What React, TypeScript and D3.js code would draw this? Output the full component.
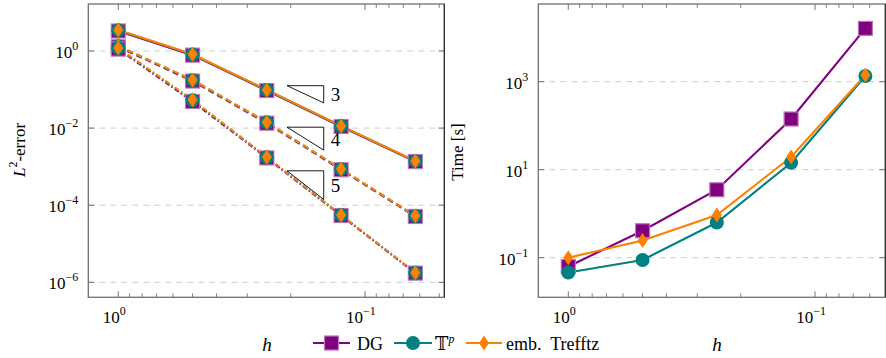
import React from 'react';
import * as d3 from 'd3';

// mesh sizes
const hValues = [1, 0.5, 0.25, 0.125, 0.0625];

// L2 errors, one array per method and order
const dgErr3 = [3.3, 0.78, 0.094, 0.011, 0.00135];
const tpErr3 = [3.45, 0.81, 0.097, 0.0113, 0.00139];
const teErr3 = [3.5, 0.82, 0.098, 0.0114, 0.0014];
const dgErr4 = [1.28, 0.166, 0.0134, 8.3e-4, 5.1e-5];
const tpErr4 = [1.33, 0.175, 0.0141, 8.6e-4, 5.25e-5];
const teErr4 = [1.35, 0.178, 0.0142, 8.7e-4, 5.3e-5];
const dgErr5 = [1.12, 0.049, 1.68e-3, 5.4e-5, 1.73e-6];
const tpErr5 = [1.18, 0.053, 1.75e-3, 5.55e-5, 1.76e-6];
const teErr5 = [1.2, 0.054, 1.77e-3, 5.6e-5, 1.77e-6];

// computing times [s]
const dgTime = [0.063, 0.41, 3.5, 142, 16300];
const tpTime = [0.046, 0.089, 0.63, 14.4, 1350];
const teTime = [0.1, 0.245, 0.93, 19.4, 1420];

// slope triangles
const slopeOrders = [3, 4, 5];
const slopeTopY = [0.126, 0.01055, 7.8e-4];
const slopeH0 = 0.207;
const slopeH1 = 0.147;

const leftYTicks = [1, 1e-2, 1e-4, 1e-6];
const leftYExp = ['0', '−2', '−4', '−6'];
const rightYTicks = [1e3, 1e1, 1e-1];
const rightYExp = ['3', '1', '−1'];
const xMajor = [1, 0.1];
const xMajorExp = ['0', '−1'];
const xMinor = [0.9, 0.8, 0.7, 0.6, 0.5, 0.4, 0.3, 0.2, 0.09, 0.08, 0.07, 0.06, 0.05];

const PURPLE = '#800080';
const TEAL = '#008080';
const ORANGE = '#ff8000';
const FONT = '"Liberation Serif", "DejaVu Serif", serif';
const tf = { fontFamily: FONT };

const xL = d3.scaleLog().domain([1.323, 0.0477]).range([88.3, 444.3]);
const yL = d3.scaleLog().domain([Math.pow(10, 1.219), Math.pow(10, -6.389)]).range([4, 297.3]);
const xR = d3.scaleLog().domain([1.323, 0.0519]).range([538.3, 885.3]);
const yR = d3.scaleLog().domain([Math.pow(10, 4.766), Math.pow(10, -1.9)]).range([4, 297.3]);

function Square({ x, y }: { x: number; y: number }) {
  const s = 14;
  return <rect x={x - s / 2} y={y - s / 2} width={s} height={s} fill={PURPLE} stroke="#b77ab7" strokeWidth={1.2} />;
}
function Circle({ x, y }: { x: number; y: number }) {
  return <circle cx={x} cy={y} r={7} fill={TEAL} />;
}
function Diamond({ x, y }: { x: number; y: number }) {
  return <path d={`M${x},${y - 7.5}L${x + 5},${y}L${x},${y + 7.5}L${x - 5},${y}Z`} fill={ORANGE} />;
}

function Frame({ x, y, yTicks, yExp }: any) {
  const [x0, x1] = x.range();
  const [y0, y1] = y.range();
  return (
    <g>
      {yTicks.map((t: number, i: number) => (
        <line key={'g' + i} x1={x0} x2={x1} y1={y(t)} y2={y(t)} stroke="#cfcfcf" strokeWidth={1} strokeDasharray="6 5" />
      ))}
      {xMinor.map((t, i) => (
        <g key={'m' + i} stroke="#666" strokeWidth={0.8}>
          <line x1={x(t)} x2={x(t)} y1={y1} y2={y1 - 4} />
          <line x1={x(t)} x2={x(t)} y1={y0} y2={y0 + 4} />
        </g>
      ))}
      {xMajor.map((t, i) => (
        <g key={'M' + i}>
          <line x1={x(t)} x2={x(t)} y1={y1} y2={y1 - 6} stroke="#666" strokeWidth={0.9} />
          <line x1={x(t)} x2={x(t)} y1={y0} y2={y0 + 6} stroke="#666" strokeWidth={0.9} />
          <text x={x(t) - 4} y={y1 + 26} fontSize={17} textAnchor="middle" style={tf}>
            10<tspan fontSize={12} dy={-8}>{xMajorExp[i]}</tspan>
          </text>
        </g>
      ))}
      {yTicks.map((t: number, i: number) => (
        <g key={'y' + i}>
          <line x1={x0} x2={x0 + 6} y1={y(t)} y2={y(t)} stroke="#666" strokeWidth={0.9} />
          <line x1={x1} x2={x1 - 6} y1={y(t)} y2={y(t)} stroke="#666" strokeWidth={0.9} />
          <text x={x0 - 10} y={y(t) + 7} fontSize={17} textAnchor="end" style={tf}>
            10<tspan fontSize={12} dy={-8}>{yExp[i]}</tspan>
          </text>
        </g>
      ))}
      <rect x={x0} y={y0} width={x1 - x0} height={y1 - y0} fill="none" stroke="#707070" strokeWidth={1.3} />
      <line x1={x1} x2={x1} y1={y0} y2={y1} stroke="#222" strokeWidth={1} />
    </g>
  );
}

function series(x: any, y: any, vals: number[]) {
  return d3
    .line<number>()
    .x((_, i) => x(hValues[i]))
    .y((d) => y(d))(vals) as string;
}

export default function App() {
  const groups = [
    { dg: dgErr3, tp: tpErr3, te: teErr3, dash: undefined },
    { dg: dgErr4, tp: tpErr4, te: teErr4, dash: '6 4' },
    { dg: dgErr5, tp: tpErr5, te: teErr5, dash: '5 2.5 1.5 2.5' },
  ];
  const lw = 2.1;

  return (
    <svg width={886} height={358} style={{ position: 'absolute', left: 0, top: 0, fontFamily: FONT }}>
      <rect width={886} height={358} fill="#fff" />

      {/* left panel: errors */}
      <Frame x={xL} y={yL} yTicks={leftYTicks} yExp={leftYExp} />
      {groups.map((g, gi) => (
        <g key={gi} fill="none" strokeWidth={lw} strokeDasharray={g.dash}>
          <path d={series(xL, yL, g.dg)} stroke={PURPLE} />
          <path d={series(xL, yL, g.tp)} stroke={TEAL} />
          <path d={series(xL, yL, g.te)} stroke={ORANGE} />
        </g>
      ))}
      {groups.map((g, gi) => (
        <g key={'mk' + gi}>
          {g.dg.map((v, i) => <Square key={'s' + i} x={xL(hValues[i])} y={yL(v)} />)}
          {g.tp.map((v, i) => <Circle key={'c' + i} x={xL(hValues[i])} y={yL(v)} />)}
          {g.te.map((v, i) => <Diamond key={'d' + i} x={xL(hValues[i])} y={yL(v)} />)}
        </g>
      ))}
      {slopeOrders.map((p, i) => {
        const yTop = slopeTopY[i];
        const yBot = yTop * Math.pow(slopeH1 / slopeH0, p);
        const ax = xL(slopeH0);
        const bx = xL(slopeH1);
        const ay = yL(yTop);
        const by = yL(yBot);
        return (
          <g key={'t' + i}>
            <path d={`M${ax},${ay}L${bx},${ay}L${bx},${by}Z`} fill="#fff" stroke="#000" strokeWidth={0.9} />
            <text x={bx + 7} y={(ay + by) / 2 + 7} fontSize={19} style={tf}>{p}</text>
          </g>
        );
      })}
      <text transform="translate(25,150) rotate(-90)" textAnchor="middle" fontSize={17} style={tf}>
        <tspan fontStyle="italic">L</tspan>
        <tspan fontSize={12} dy={-8}>2</tspan>
        <tspan dy={8}>-error</tspan>
      </text>
      <text x={267} y={351} fontSize={19} fontStyle="italic" textAnchor="middle" style={tf}>h</text>

      {/* right panel: times */}
      <Frame x={xR} y={yR} yTicks={rightYTicks} yExp={rightYExp} />
      <g fill="none" strokeWidth={lw}>
        <path d={series(xR, yR, dgTime)} stroke={PURPLE} />
        <path d={series(xR, yR, tpTime)} stroke={TEAL} />
        <path d={series(xR, yR, teTime)} stroke={ORANGE} />
      </g>
      {dgTime.map((v, i) => <Square key={'rs' + i} x={xR(hValues[i])} y={yR(v)} />)}
      {tpTime.map((v, i) => <Circle key={'rc' + i} x={xR(hValues[i])} y={yR(v)} />)}
      {teTime.map((v, i) => <Diamond key={'rd' + i} x={xR(hValues[i])} y={yR(v)} />)}
      <text transform="translate(463,152) rotate(-90)" textAnchor="middle" fontSize={17} style={tf}>Time [s]</text>
      <text x={717} y={351} fontSize={19} fontStyle="italic" textAnchor="middle" style={tf}>h</text>

      {/* legend */}
      <g>
        <line x1={313} x2={350} y1={343} y2={343} stroke={PURPLE} strokeWidth={lw} />
        <Square x={331.5} y={343} />
        <text x={357} y={350} fontSize={18} style={tf}>DG</text>
        <line x1={394} x2={432} y1={343} y2={343} stroke={TEAL} strokeWidth={lw} />
        <Circle x={413} y={343} />
        <text x={435} y={350} fontSize={18} style={tf}>
          𝕋<tspan fontSize={12} fontStyle="italic" dy={-7}>p</tspan>
        </text>
        <line x1={466} x2={502} y1={343} y2={343} stroke={ORANGE} strokeWidth={lw} />
        <Diamond x={484} y={343} />
        <text x={506} y={350} fontSize={18} style={{ ...tf, whiteSpace: 'pre' }}>{'emb.  Trefftz'}</text>
      </g>
    </svg>
  );
}
